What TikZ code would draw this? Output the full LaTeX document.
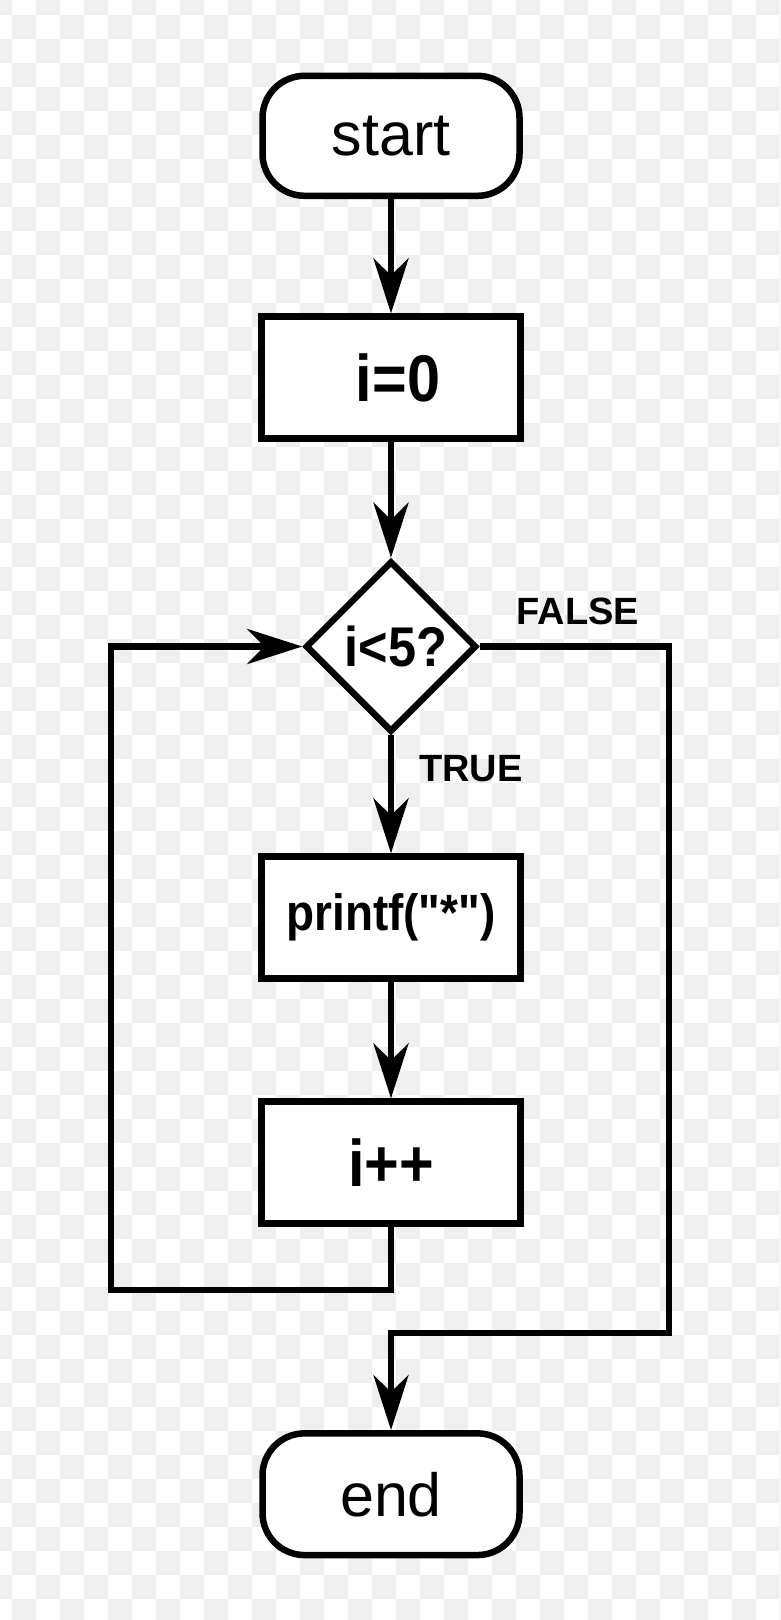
\documentclass[tikz,border=0pt]{standalone}
\usepackage{fontspec}
\setmainfont{Liberation Sans}
\newfontfamily\cfont{Liberation Sans Bold}[FakeStretch=0.9]
\usetikzlibrary{arrows.meta,shapes.geometric}
\definecolor{checker}{HTML}{EFEFEF}
\tikzset{
  tipstyle/.tip={Stealth[length=55pt,width=35pt,inset=17pt]},
  wire/.style={line width=6.5pt},
  flow/.style={wire,-tipstyle},
  term/.style={draw, line width=6.5pt, fill=white, rounded corners=42pt,
    minimum width=257pt, minimum height=120pt, inner sep=0pt,
    font=\fontsize{61}{61}\selectfont},
  proc/.style={draw, line width=6.5pt, fill=white,
    minimum width=259pt, minimum height=121.7pt, inner sep=0pt},
  dec/.style={draw, diamond, line width=6.5pt, fill=white,
    minimum width=171pt, minimum height=171pt, inner sep=0pt,
    font=\cfont\fontsize{56}{56}\selectfont},
  lbl/.style={inner sep=0pt, font=\bfseries\fontsize{38}{38}\selectfont},
}
\begin{document}
\begin{tikzpicture}[x=1pt,y=-1pt]
\useasboundingbox (0,0) rectangle (780,1620);
% checkerboard background
\fill[white] (0,0) rectangle (780,1620);
\foreach \c in {-1,...,32}{
  \foreach \r in {-1,...,66}{
    \pgfmathtruncatemacro\p{\c+\r+100}
    \ifodd\p\else
      \fill[checker] ({12+24*\c},{15+24*\r}) rectangle ++(24,24);
    \fi
  }
}
% nodes
\node[term] (start) at (391,135.8) {start};
\node[proc, font=\cfont\fontsize{66}{66}\selectfont] (i0) at (391,377.5) {\hspace{14pt}i=0};
\node[dec] (cond) at (391,646.5) {\hspace{10pt}i<5?};
\node[proc, font=\cfont\fontsize{51}{51}\selectfont] (pr) at (391,917.5) {printf("*")};
\node[proc, font=\cfont\fontsize{66}{66}\selectfont] (inc) at (391,1162.5) {i++};
\node[term, minimum height=121.7pt] (en) at (391,1494.2) {end};
\node[lbl] (false) at (578,611) {FALSE};
\node[lbl] (true) at (471,769) {TRUE};
\coordinate (lb) at (111,1290);
\coordinate (fr) at (669,1333);
% connectors
\draw[flow] (start) -- (i0);
\draw[flow] (i0) -- (cond);
\draw[flow] (cond) -- (pr);
\draw[flow] (pr) -- (inc);
\draw[flow] (inc.south) -- (inc.south |- lb) -- (lb) -- (lb |- cond.west) -- (cond.west);
\draw[flow] (cond.east) -- (cond.east -| fr) -- (fr) -- (fr -| en.north) -- (en.north);
\end{tikzpicture}
\end{document}
